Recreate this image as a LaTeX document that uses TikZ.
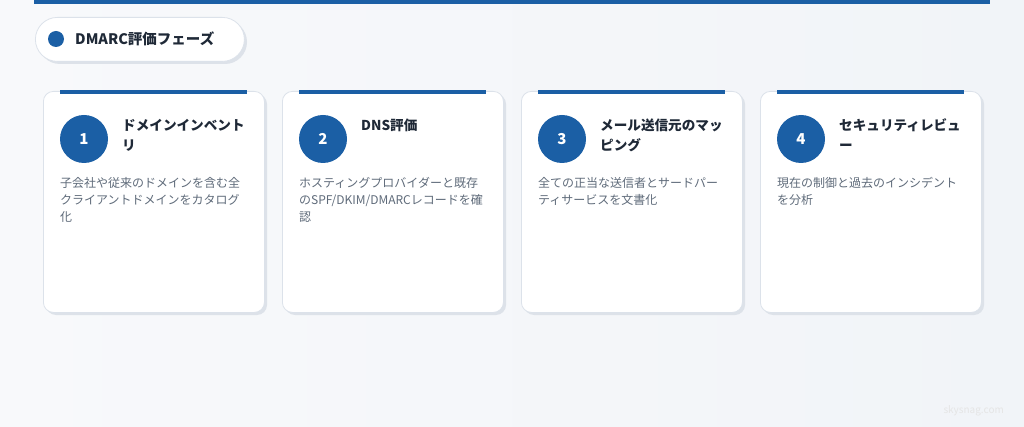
\documentclass[tikz,border=0pt]{standalone}
\usepackage{fontspec}
\setmainfont{Noto Sans CJK JP}
\definecolor{brand}{HTML}{1B5FA5}
\definecolor{bg}{HTML}{F1F4F8}
\definecolor{bgl}{HTML}{F8F9FB}
\definecolor{cardline}{HTML}{DCE2EA}
\definecolor{titlec}{HTML}{1F2937}
\definecolor{descc}{HTML}{5F6B7A}
\definecolor{shadowc}{HTML}{DDE2E9}
\tikzset{
  cardbox/.style={fill=white,draw=cardline,line width=0.8pt,rounded corners=10pt},
  cardshadow/.style={fill=shadowc,rounded corners=10pt},
  numcirc/.style={circle,fill=brand,minimum size=48pt,inner sep=0pt,text=white,font=\bfseries\fontsize{15}{15}\selectfont},
  cardtitle/.style={anchor=base west,inner sep=0pt,align=left,text=titlec,font=\bfseries\fontsize{13.6}{20}\selectfont},
  carddesc/.style={anchor=base west,inner sep=0pt,align=left,text=descc,font=\fontsize{12}{17}\selectfont},
  topline/.style={brand,line width=4pt}
}
% #1 x, #2 number, #3 title, #4 description, #5 title lines-1, #6 description lines-1
\newcommand\phasecard[6]{%
  \fill[cardshadow] (#1+3,94) rectangle (#1+224,315);
  \node[cardbox,minimum width=221pt,minimum height=221pt,anchor=north west] (card#2) at (#1,91) {};
  \coordinate (tl#2) at (#1+17,92);
  \coordinate (tr#2) at (#1+204,92);
  \draw[topline] (tl#2) -- (tr#2);
  \node[numcirc] (num#2) at (#1+41,139) {#2};
  \node[cardtitle] (title#2) at (#1+79,131+20*#5) {#3};
  \node[carddesc] (desc#2) at (#1+17,187.5+17*#6) {#4};
}
\begin{document}
\begin{tikzpicture}[x=1pt,y=-1pt]
\useasboundingbox (0,0) rectangle (1024,427);
\shade[left color=bgl,right color=bg] (0,0) rectangle (1024,427);
\draw[brand,line width=4pt] (34,2) -- (990,2);
% pill
\fill[shadowc,rounded corners=22pt] (38,20) rectangle (247,64);
\node[fill=white,draw=cardline,line width=0.8pt,rounded corners=22pt,minimum width=209pt,minimum height=44pt,anchor=north west] (pill) at (35,17) {};
\node[circle,fill=brand,minimum size=16pt,inner sep=0pt] (dot) at (56,39) {};
\node[anchor=west,inner sep=0pt,text=titlec,font=\bfseries\fontsize{14.5}{14.5}\selectfont] (pilltext) at (75,39) {DMARC評価フェーズ};
\phasecard{43}{1}{ドメインインベント\\リ}{子会社や従来のドメインを含む全\\クライアントドメインをカタログ\\化}{1}{2}
\phasecard{282}{2}{DNS評価}{ホスティングプロバイダーと既存\\のSPF/DKIM/DMARCレコードを確\\認}{0}{2}
\phasecard{521}{3}{メール送信元のマッ\\ピング}{全ての正当な送信者とサードパー\\ティサービスを文書化}{1}{1}
\phasecard{760}{4}{セキュリティレビュ\\ー}{現在の制御と過去のインシデント\\を分析}{1}{1}
\node[anchor=east,inner sep=0pt,text=black!10,font=\fontsize{10}{10}\selectfont] (wm) at (1004,411) {skysnag.com};
\end{tikzpicture}
\end{document}
